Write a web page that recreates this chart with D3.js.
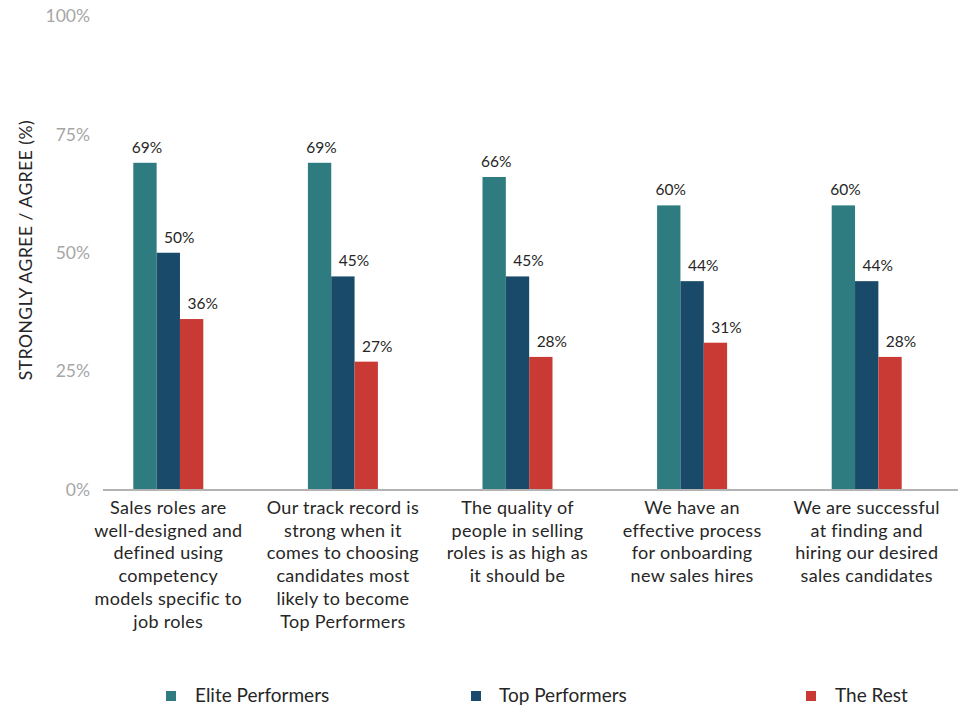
<!DOCTYPE html>
<html>
<head>
<meta charset="utf-8">
<script src="https://cdn.jsdelivr.net/npm/d3@7"></script>
<style>
  html, body { margin: 0; padding: 0; background: #fff; }
  svg { display: block; font-family: Lato, "Noto Sans", sans-serif; }
</style>
</head>
<body>
<svg id="chart" width="958" height="708"></svg>
<script>
// Survey statements (x-axis categories), wrapped as drawn
const categories = [
  ["Sales roles are", "well-designed and", "defined using", "competency", "models specific to", "job roles"],
  ["Our track record is", "strong when it", "comes to choosing", "candidates most", "likely to become", "Top Performers"],
  ["The quality of", "people in selling", "roles is as high as", "it should be"],
  ["We have an", "effective process", "for onboarding", "new sales hires"],
  ["We are successful", "at finding and", "hiring our desired", "sales candidates"]
];
const seriesNames = ["Elite Performers", "Top Performers", "The Rest"];
const eliteValues = [69, 69, 66, 60, 60];
const topValues = [50, 45, 45, 44, 44];
const restValues = [36, 27, 28, 31, 28];
const yTicks = [0, 25, 50, 75, 100];
const colors = ["#2e7b80", "#1a4a69", "#c93a34"];

const series = [eliteValues, topValues, restValues];
const svg = d3.select("#chart");
const ink = "#262626";

const y = d3.scaleLinear().domain([0, 100]).range([489.5, 16]);
const x0 = d3.scaleBand().domain(d3.range(categories.length)).range([81, 954]);
const x1 = d3.scaleBand().domain(d3.range(seriesNames.length)).range([0, 70]);
const groupOffset = (x0.bandwidth() - 70) / 2;

// y tick labels
svg.append("g").selectAll("text").data(yTicks).join("text")
  .attr("x", 90).attr("y", d => y(d))
  .attr("dy", "0.35em")
  .attr("text-anchor", "end")
  .attr("fill", "#a6a6a6")
  .style("font-size", "17.5px")
  .text(d => d + "%");

// y axis title
svg.append("text")
  .attr("transform", "translate(32,250) rotate(-90)")
  .attr("text-anchor", "middle")
  .attr("fill", ink)
  .style("font-size", "17.5px")
  .style("letter-spacing", "0.5px")
  .text("STRONGLY AGREE / AGREE (%)");

// bars
const groups = svg.append("g").selectAll("g").data(categories).join("g")
  .attr("transform", (d, i) => `translate(${x0(i) + groupOffset},0)`);

groups.selectAll("rect").data((d, i) => series.map((s, k) => ({ k, v: s[i] }))).join("rect")
  .attr("x", d => x1(d.k))
  .attr("width", x1.bandwidth())
  .attr("y", d => y(d.v))
  .attr("height", d => y(0) - y(d.v))
  .attr("fill", d => colors[d.k]);

// value labels
groups.selectAll("text.val").data((d, i) => series.map((s, k) => ({ k, v: s[i] }))).join("text")
  .attr("class", "val")
  .attr("x", d => x1(d.k) + x1.bandwidth() / 2 + (d.k === 0 ? 2 : 11))
  .attr("y", d => y(d.v) - 10)
  .attr("text-anchor", "middle")
  .attr("fill", ink)
  .style("font-size", "15.5px")
  .text(d => d.v + "%");

// baseline
svg.append("line")
  .attr("x1", 103).attr("x2", 958)
  .attr("y1", y(0) + 0.5).attr("y2", y(0) + 0.5)
  .attr("stroke", "#b3b3b3").attr("stroke-width", 2);

// category labels
groups.append("text")
  .attr("text-anchor", "middle")
  .attr("fill", ink)
  .style("font-size", "18px")
  .style("letter-spacing", "0.3px")
  .selectAll("tspan").data(d => d).join("tspan")
  .attr("x", 35)
  .attr("y", (d, j) => 514 + j * 22.7)
  .text(d => d);

// legend
const legendX = [166, 471, 806];
const legend = svg.append("g").selectAll("g").data(seriesNames).join("g")
  .attr("transform", (d, i) => `translate(${legendX[i]},691)`);
legend.append("rect").attr("width", 10).attr("height", 10)
  .attr("fill", (d, i) => colors[i]);
legend.append("text")
  .attr("x", (d, i) => i === 1 ? 28 : 29).attr("y", 10.5)
  .attr("fill", ink)
  .style("font-size", "19px")
  .text(d => d);
</script>
</body>
</html>
